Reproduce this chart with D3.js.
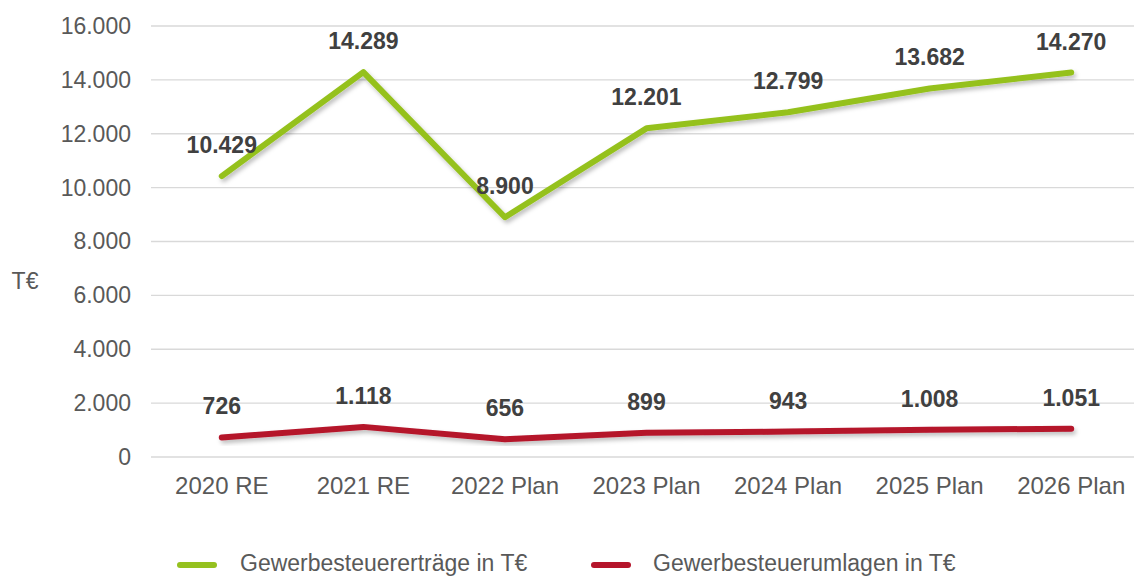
<!DOCTYPE html>
<html><head><meta charset="utf-8">
<script src="https://cdn.jsdelivr.net/npm/d3@7"></script>
<style>body{margin:0;background:#fff;}svg{display:block;font-family:"Liberation Sans",Arial,sans-serif;}</style>
</head><body>
<svg id="c" width="1134" height="577"></svg>
<script>
const categories = ["2020 RE","2021 RE","2022 Plan","2023 Plan","2024 Plan","2025 Plan","2026 Plan"];
const ertraege = [10429,14289,8900,12201,12799,13682,14270];
const umlagen = [726,1118,656,899,943,1008,1051];
const yTicks = [0,2000,4000,6000,8000,10000,12000,14000,16000];
const seriesNames = ["Gewerbesteuererträge in T€","Gewerbesteuerumlagen in T€"];
const colors = ["#95c11f","#b5152b"];

const svg = d3.select("#c");
const fmt = d3.formatLocale({decimal:",",thousands:".",grouping:[3],currency:["","€"]}).format(",.0f");
const x = d3.scaleBand().domain(categories).range([151,1142]);
const y = d3.scaleLinear().domain([0,16000]).range([457,26]);

const defs = svg.append("defs");
const f = defs.append("filter").attr("id","sh").attr("x","-5%").attr("y","-50%").attr("width","110%").attr("height","200%");
f.append("feDropShadow").attr("dx",2).attr("dy",3).attr("stdDeviation",2).attr("flood-color","#000").attr("flood-opacity",0.25);

// grid
svg.append("g").selectAll("line").data(yTicks).join("line")
  .attr("x1",151).attr("x2",1134).attr("y1",d=>y(d)).attr("y2",d=>y(d))
  .attr("stroke","#d9d9d9").attr("stroke-width",1.3);

// y axis labels
const ya = svg.append("g").attr("transform","translate(131,0)")
  .call(d3.axisLeft(y).tickValues(yTicks).tickFormat(fmt).tickSize(0).tickPadding(0));
ya.select(".domain").remove();
ya.selectAll("text").attr("font-size",23).attr("fill","#595959").attr("font-family","Liberation Sans, Arial, sans-serif");

svg.append("text").attr("x",25).attr("y",289).attr("text-anchor","middle").attr("font-size",23).attr("fill","#595959").text("T€");

// x axis labels
const xa = svg.append("g").attr("transform","translate(0,494)")
  .call(d3.axisBottom(x).tickSize(0).tickPadding(0));
xa.select(".domain").remove();
xa.selectAll("text").attr("font-size",24).attr("fill","#595959").attr("dy","0").attr("font-family","Liberation Sans, Arial, sans-serif");

const line = d3.line().x((d,i)=>x(categories[i])+x.bandwidth()/2).y(d=>y(d));
[ertraege,umlagen].forEach((s,k)=>{
  svg.append("path").datum(s).attr("d",line).attr("fill","none").attr("stroke",colors[k])
    .attr("stroke-width",6).attr("stroke-linecap","round").attr("stroke-linejoin","round").attr("filter","url(#sh)");
});
[ertraege,umlagen].forEach((s,k)=>{
  svg.append("g").selectAll("text").data(s).join("text")
    .attr("x",(d,i)=>x(categories[i])+x.bandwidth()/2)
    .attr("y",d=>y(d)-23)
    .attr("text-anchor","middle").attr("font-size",23).attr("font-weight","bold").attr("fill","#404040")
    .text(d=>fmt(d));
});

// legend
const leg = [{x:180,tx:240},{x:594,tx:653}];
leg.forEach((l,k)=>{
  svg.append("line").attr("x1",l.x).attr("x2",l.x+34).attr("y1",565).attr("y2",565)
    .attr("stroke",colors[k]).attr("stroke-width",6).attr("stroke-linecap","round");
  svg.append("text").attr("x",l.tx).attr("y",571).attr("font-size",23).attr("fill","#595959").text(seriesNames[k]);
});
</script>
</body></html>
